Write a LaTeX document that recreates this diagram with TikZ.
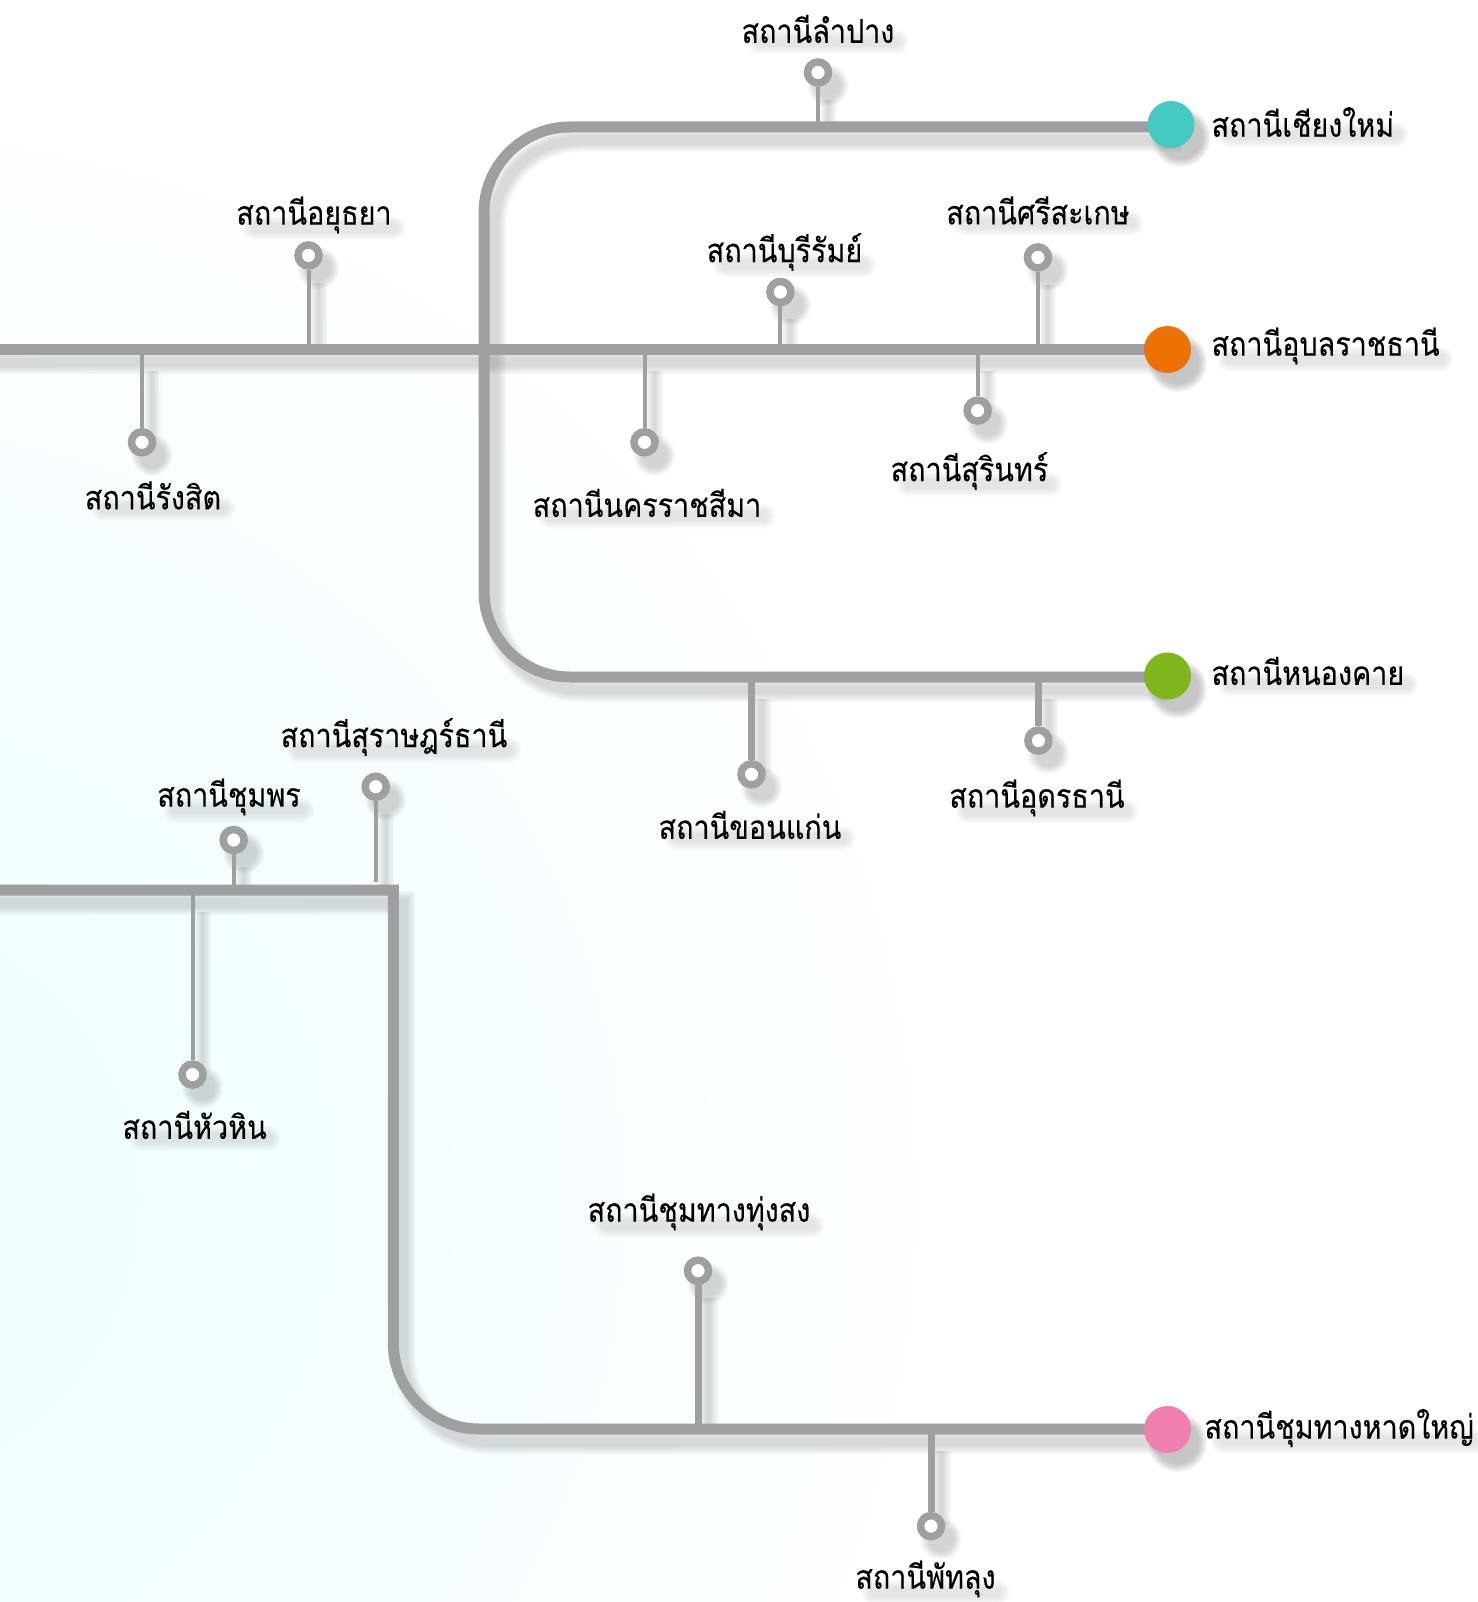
\documentclass[tikz,border=0pt]{standalone}
\usepackage{fontspec}
\newfontfamily\thaifont[Script=Thai,FakeStretch=0.87,FakeBold=0.25]{Loma}
\usepackage{xcolor}
\usetikzlibrary{calc}
\definecolor{trackgray}{HTML}{9E9FA1}
\definecolor{tealend}{HTML}{45C9C3}
\definecolor{orangeend}{HTML}{EE7203}
\definecolor{greenend}{HTML}{7FB61C}
\definecolor{pinkend}{HTML}{EE7FAE}
\definecolor{bgcyan}{HTML}{EBFDFF}
\pgfdeclarelayer{paper}
\pgfdeclarelayer{shade}
\pgfdeclarelayer{track}
\pgfsetlayers{paper,shade,track,main}
\tikzset{
  trunk/.style={draw=trackgray,line width=11pt},
  stem/.style={draw=trackgray,line width=4pt},
  stemthick/.style={draw=trackgray,line width=7pt},
  ring/.style={circle,draw=trackgray,fill=white,line width=7.5pt,
               minimum size=21pt,inner sep=0pt},
  endstop/.style={circle,minimum size=47pt,inner sep=0pt,outer sep=0pt},
  softline/.style={draw=black!60,opacity=.045,shorten >=9pt},
  softband/.style={draw=black!60,opacity=.028,line cap=round}
}
% every line of the network, drawn once for the shadow and once for real
\newcommand{\networklines}[1]{%
  \draw[trunk,#1,rounded corners=86pt] (tealStop |- topCorner) -- (topCorner)
    -- (greenCorner) -- (greenStop |- greenCorner);
  \draw[trunk,#1] (midWest) -- (orangeStop |- midWest);
  \draw[trunk,#1] (lowWest) -- (lowElbow) [rounded corners=86pt] -- (pinkCorner)
    -- (pinkStop |- pinkCorner);
  \draw[stem,#1] (rLampang) -- (rLampang |- topCorner);
  \draw[stem,#1] (rAyutthaya) -- (rAyutthaya |- midWest);
  \draw[stem,#1] (rRangsit) -- (rRangsit |- midWest);
  \draw[stem,#1] (rKorat) -- (rKorat |- midWest);
  \draw[stem,#1] (rBuriram) -- (rBuriram |- midWest);
  \draw[stem,#1] (rSisaket) -- (rSisaket |- midWest);
  \draw[stem,#1] (rSurin) -- (rSurin |- midWest);
  \draw[stemthick,#1] (rKhonKaen) -- (rKhonKaen |- greenCorner);
  \draw[stemthick,#1] (rUdon) -- (rUdon |- greenCorner);
  \draw[stem,#1] (rSurat) -- (surTrunk);
  \draw[stem,#1] (rChumphon) -- (rChumphon |- lowWest);
  \draw[stem,#1] (rHuaHin) -- (rHuaHin |- lowWest);
  \draw[stemthick,#1] (rThungSong) -- (rThungSong |- pinkCorner);
  \draw[stemthick,#1] (rPhatthalung) -- (rPhatthalung |- pinkCorner);
}
\begin{document}
\begin{tikzpicture}[x=1pt,y=-1pt,
                    every node/.style={font=\thaifont\fontsize{33}{36}\selectfont}]
  \useasboundingbox (0,0) rectangle (1477,1602);
  % background
  \begin{pgfonlayer}{paper}
    \fill[white] (0,0) rectangle (1477,1602);
    \clip (0,0) rectangle (1477,1602);
    \shade[inner color=bgcyan,outer color=white] (-150,1200) circle (1150);
  \end{pgfonlayer}
  % line ends
  \node[endstop,fill=tealend]   (tealStop)   at (1171,124.5) {};
  \node[endstop,fill=orangeend] (orangeStop) at (1167.5,349.5) {};
  \node[endstop,fill=greenend]  (greenStop)  at (1167.5,676) {};
  \node[endstop,fill=pinkend]   (pinkStop)   at (1167.5,1429.5) {};
  % corners of the lines
  \coordinate (topCorner)   at (484,127);
  \coordinate (greenCorner) at (484,677);
  \coordinate (midWest)     at (-20,349);
  \coordinate (lowWest)     at (-20,890);
  \coordinate (lowElbow)    at (393.3,890);
  \coordinate (pinkCorner)  at (393.3,1429);
  % stations
  \node[ring] (rLampang)     at (818,72.5) {};
  \node[ring] (rAyutthaya)   at (308.5,255.4) {};
  \node[ring] (rRangsit)     at (142,442.3) {};
  \node[ring] (rKorat)       at (644.5,442.3) {};
  \node[ring] (rBuriram)     at (780.4,292) {};
  \node[ring] (rSisaket)     at (1037.9,257.4) {};
  \node[ring] (rSurin)       at (977.6,410.6) {};
  \node[ring] (rKhonKaen)    at (751.5,774.3) {};
  \node[ring] (rUdon)        at (1038.4,740.6) {};
  \node[ring] (rSurat)       at (375.7,786.7) {};
  \node[ring] (rChumphon)    at (233.7,840) {};
  \node[ring] (rHuaHin)      at (192.5,1074.6) {};
  \node[ring] (rThungSong)   at (698,1270.7) {};
  \node[ring] (rPhatthalung) at (931,1526.1) {};
  \coordinate (surTrunk) at (375.7,881.5);
  % labels
  \node (lLampang)     at (818,29)     {สถานีลำปาง};
  \node[anchor=west] (lChiangMai) at (1208,122) {สถานีเชียงใหม่};
  \node (lAyutthaya)   at (314,215)    {สถานีอยุธยา};
  \node (lSisaket)     at (1038,210.5) {สถานีศรีสะเกษ};
  \node (lBuriram)     at (784.5,252)  {สถานีบุรีรัมย์};
  \node[anchor=west] (lUbon) at (1208,346) {สถานีอุบลราชธานี};
  \node (lRangsit)     at (153,495.5)  {สถานีรังสิต};
  \node (lKorat)       at (647,503)    {สถานีนครราชสีมา};
  \node (lSurin)       at (969.5,471)  {สถานีสุรินทร์};
  \node[anchor=west] (lNongKhai) at (1208,671) {สถานีหนองคาย};
  \node (lKhonKaen)    at (750,825)    {สถานีขอนแก่น};
  \node (lUdon)        at (1037,798)   {สถานีอุดรธานี};
  \node (lSurat)       at (394,737)    {สถานีสุราษฎร์ธานี};
  \node (lChumphon)    at (229,797)    {สถานีชุมพร};
  \node (lHuaHin)      at (194.6,1125) {สถานีหัวหิน};
  \node (lThungSong)   at (699,1212)   {สถานีชุมทางทุ่งสง};
  \node[anchor=west] (lHatYai) at (1201,1428) {สถานีชุมทางหาดใหญ่};
  \node (lPhatthalung) at (925.5,1579) {สถานีพัทลุง};
  % lines
  \begin{pgfonlayer}{track}
    \networklines{}
  \end{pgfonlayer}
  % shadows
  \begin{pgfonlayer}{shade}
    \begin{scope}[transform canvas={xshift=10pt,yshift=-13pt}]
      \foreach \grow in {-2,1,4,7,10,13} {
        \networklines{softline,line width=\pgflinewidth+\grow pt}
        \foreach \n in {rLampang,rAyutthaya,rRangsit,rKorat,rBuriram,rSisaket,rSurin,
                        rKhonKaen,rUdon,rSurat,rChumphon,rHuaHin,rThungSong,rPhatthalung}
          \fill[black!60,opacity=.05] (\n.center) circle (14+\grow/2);
        \foreach \n in {tealStop,orangeStop,greenStop,pinkStop}
          \fill[black!60,opacity=.07] (\n.center) circle (23+\grow/2);
        \foreach \n in {lLampang,lChiangMai,lAyutthaya,lSisaket,lBuriram,lUbon,lRangsit,
                        lKorat,lSurin,lNongKhai,lKhonKaen,lUdon,lSurat,lChumphon,lHuaHin,
                        lThungSong,lHatYai,lPhatthalung}
          \draw[softband,line width=12pt+\grow pt]
            ($(\n.west)+(12,0)$) -- ($(\n.east)+(-12,0)$);
      }
    \end{scope}
  \end{pgfonlayer}
\end{tikzpicture}
\end{document}
